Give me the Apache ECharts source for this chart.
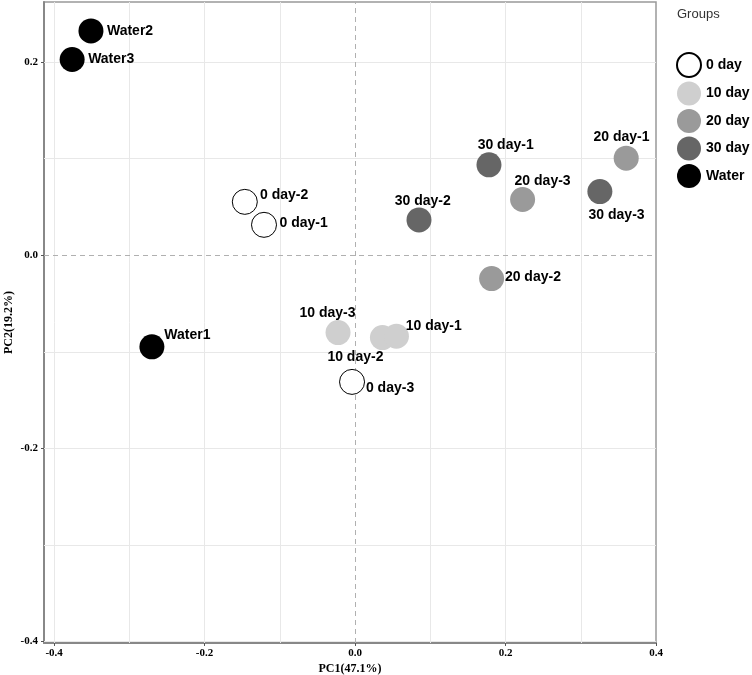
<!DOCTYPE html>
<html>
<head>
<meta charset="utf-8">
<script src="https://cdn.jsdelivr.net/npm/echarts@6/dist/echarts.min.js"></script>
<style>html,body{margin:0;padding:0;background:#fff}#c{width:752px;height:675px}</style>
</head>
<body>
<div id="c"></div>
<script>
// ---- data ----
const groups = ['0 day', '10 day', '20 day', '30 day', 'Water'];
const sampleNames = ['Water2', 'Water3', 'Water1', '0 day-2', '0 day-1', '0 day-3',
  '10 day-3', '10 day-2', '10 day-1', '20 day-1', '20 day-2', '20 day-3',
  '30 day-1', '30 day-2', '30 day-3'];
const sampleGroup = ['Water', 'Water', 'Water', '0 day', '0 day', '0 day',
  '10 day', '10 day', '10 day', '20 day', '20 day', '20 day',
  '30 day', '30 day', '30 day'];
const pc1 = [-0.351, -0.376, -0.270, -0.1465, -0.121, -0.004,
  -0.0226, 0.0364, 0.055, 0.3604, 0.1815, 0.2227,
  0.178, 0.085, 0.3254];
const pc2 = [0.2322, 0.2026, -0.0949, 0.0552, 0.0314, -0.1312,
  -0.0801, -0.0853, -0.0839, 0.1004, -0.0242, 0.0576,
  0.0935, 0.0365, 0.0658];
const xTicks = [-0.4, -0.2, 0.0, 0.2, 0.4];
const yTicks = [-0.4, -0.2, 0.0, 0.2];
const xGrid = [-0.4, -0.3, -0.2, -0.1, 0.1, 0.2, 0.3];
const yGrid = [-0.4, -0.3, -0.2, -0.1, 0.1, 0.2];

// ---- style / layout ----
const SYM = 25;
const groupColor = {'0 day': '#ffffff', '10 day': '#cfcfcf', '20 day': '#9a9a9a', '30 day': '#666666', 'Water': '#000000'};
const labelPos = {
  'Water2': ['left', 16, 0], 'Water3': ['left', 16, 0], 'Water1': ['left', 12.4, -12],
  '0 day-2': ['left', 15.7, -6], '0 day-1': ['left', 16, -1.7], '0 day-3': ['left', 14.4, 6.3],
  '30 day-2': ['center', 3.7, -19], '20 day-3': ['center', 20, -18.7], '30 day-3': ['center', 16.7, 23.6],
  '30 day-1': ['center', 16.7, -19.7], '20 day-1': ['center', -4.7, -20.6], '20 day-2': ['left', 13.3, -1],
  '10 day-3': ['center', -10.6, -19.4], '10 day-2': ['center', -27, 19.3], '10 day-1': ['left', 9.3, -10]
};
const sansBold = {fontFamily: 'Liberation Sans, Arial, sans-serif', fontWeight: 'bold', fontSize: 14, color: '#000'};
const serifBold = {fontFamily: 'Liberation Serif, Times New Roman, serif', fontWeight: 'bold', color: '#000'};

const series = [];
// background grid lines drawn through the axes
series.push({
  type: 'scatter', data: [], silent: true, z: 0,
  markLine: {
    silent: true, z: 1, symbol: ['none', 'none'], animation: false, label: {show: false},
    lineStyle: {color: '#e8e8e8', width: 1, type: 'solid'},
    emphasis: {disabled: true},
    data: xGrid.map(v => ({xAxis: v})).concat(yGrid.map(v => ({yAxis: v})))
  }
});
series.push({
  type: 'scatter', data: [], silent: true, z: 0,
  markLine: {
    silent: true, z: 1, symbol: ['none', 'none'], animation: false, label: {show: false},
    lineStyle: {color: '#b0b0b0', width: 1, type: [5, 4]},
    emphasis: {disabled: true},
    data: [{xAxis: 0}, {yAxis: 0}]
  }
});
groups.forEach(g => {
  const data = [];
  sampleNames.forEach((n, i) => {
    if (sampleGroup[i] !== g) return;
    const lp = labelPos[n];
    data.push({
      name: n, value: [pc1[i], pc2[i]],
      label: {show: true, position: [SYM / 2 + lp[1], SYM / 2 + lp[2]], align: lp[0], verticalAlign: 'middle', formatter: n}
    });
  });
  series.push({
    name: g, type: 'scatter', symbol: 'circle', symbolSize: SYM, z: 10,
    itemStyle: {color: groupColor[g], borderColor: g === '0 day' ? '#000' : groupColor[g], borderWidth: g === '0 day' ? 1 : 0, opacity: 1},
    label: Object.assign({show: true}, sansBold),
    emphasis: {disabled: true},
    data: data
  });
});

const chart = echarts.init(document.getElementById('c'), null, {renderer: 'canvas'});
chart.setOption({
  animation: false,
  backgroundColor: '#fff',
  title: {text: 'Groups', left: 677, top: 8, padding: 0,
    textStyle: {fontFamily: 'Liberation Sans, Arial, sans-serif', fontWeight: 'normal', fontSize: 13, color: '#333'}},
  legend: {
    data: groups, orient: 'vertical', left: 676, top: 52, padding: 0,
    itemWidth: 24, itemHeight: 24, itemGap: 3.5, icon: 'circle', selectedMode: false,
    textStyle: sansBold
  },
  grid: {left: 44, right: 96, top: 2, bottom: 32, show: true, borderColor: '#999', borderWidth: 1.5,
    containLabel: false, outerBoundsMode: 'none'},
  xAxis: {
    type: 'value', min: -0.4134, max: 0.4,
    name: 'PC1(47.1%)', nameLocation: 'middle', nameGap: 20, nameMoveOverlap: false,
    nameTextStyle: Object.assign({fontSize: 12}, serifBold),
    axisLine: {show: true, onZero: false, lineStyle: {color: '#888', width: 2}},
    axisTick: {show: true, length: 3, customValues: xTicks, lineStyle: {color: '#555'}},
    axisLabel: Object.assign({fontSize: 11, margin: 5, customValues: xTicks, formatter: v => v.toFixed(1)}, serifBold),
    splitLine: {show: false}
  },
  yAxis: {
    type: 'value', min: -0.4015, max: 0.2621,
    name: 'PC2(19.2%)', nameLocation: 'middle', nameGap: 29, nameRotate: 90, nameMoveOverlap: false,
    nameTextStyle: Object.assign({fontSize: 12}, serifBold),
    axisLine: {show: true, onZero: false, lineStyle: {color: '#888', width: 2}},
    axisTick: {show: true, length: 3, customValues: yTicks, lineStyle: {color: '#555'}},
    axisLabel: Object.assign({fontSize: 11, margin: 6, customValues: yTicks, formatter: v => v.toFixed(1)}, serifBold),
    splitLine: {show: false}
  },
  series: series
});
</script>
</body>
</html>
